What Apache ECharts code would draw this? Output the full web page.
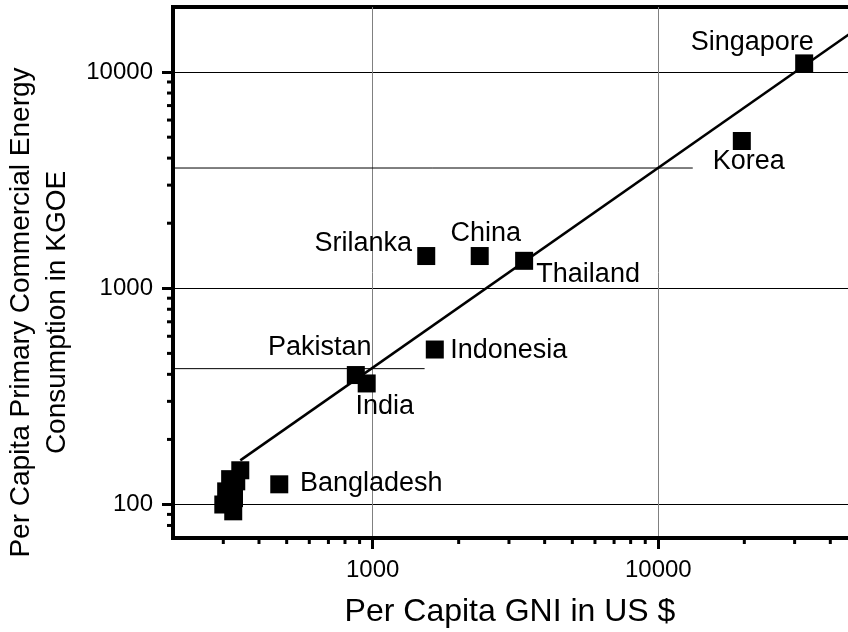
<!DOCTYPE html>
<html>
<head>
<meta charset="utf-8">
<script src="https://cdn.jsdelivr.net/npm/echarts@6/dist/echarts.min.js"></script>
<style>html,body{margin:0;padding:0;background:#fff}#chart{width:848px;height:632px}</style>
</head>
<body>
<div id="chart"></div>
<script>
// ---- data ----
const countries = ['Singapore', 'Korea', 'Srilanka', 'China', 'Thailand', 'Indonesia', 'Pakistan', 'India', 'Bangladesh'];
const gniLabeled = [32400, 19600, 1540, 2370, 3390, 1650, 873, 953, 471];
const energyLabeled = [10970, 4800, 1410, 1410, 1340, 521, 397, 363, 124];
// unlabeled cluster of low-income countries
const gniOther = [344, 333, 317, 307, 300, 327, 325];
const energyOther = [144, 128, 131, 115, 100, 107, 93];
// fitted trend line end points
const fitGni = [344, 50000];
const fitEnergy = [160, 16000];
// horizontal read-off lines
const refGniA = [200, 13200];
const refEnergyA = 3600;
const refGniB = [200, 1520];
const refEnergyB = 425;
// axis ranges and minor tick values
const X_MIN = 200, X_MAX = 50000;
const Y_MIN = 70, Y_MAX = 20000;
const xMinorTicks = [300, 400, 500, 600, 700, 800, 900, 2000, 3000, 4000, 5000, 6000, 7000, 8000, 9000, 20000, 30000, 40000];
const yMinorTicks = [80, 90, 200, 300, 400, 500, 600, 700, 800, 900, 2000, 3000, 4000, 5000, 6000, 7000, 8000, 9000];

// ---- label placement (styling, not data) ----
const labelOffsets = {
  Singapore: [-52, -21], Korea: [7, 21], Srilanka: [-63, -12], China: [6, -22],
  Thailand: [64, 14], Indonesia: [74, 1], Pakistan: [-36, -27], India: [18, 23], Bangladesh: [92, -1]
};

const FONT = 'Liberation Sans, Arial, sans-serif';
const chart = echarts.init(document.getElementById('chart'), null, {renderer: 'canvas'});

const labeledData = countries.map((c, i) => ({
  name: c,
  value: [gniLabeled[i], energyLabeled[i]]
}));
const otherData = gniOther.map((g, i) => [g, energyOther[i]]);

const tickRender = (dir) => function (params, api) {
  const p = api.coord([api.value(0), api.value(1)]);
  const shape = dir === 'x'
    ? {x1: p[0], y1: p[1], x2: p[0], y2: p[1] + 6}
    : {x1: p[0] - 6, y1: p[1], x2: p[0], y2: p[1]};
  return {type: 'line', shape: shape, style: {stroke: '#000', lineWidth: 3}};
};

chart.setOption({
  animation: false,
  backgroundColor: '#fff',
  grid: {
    left: 173, top: 7, width: 685, height: 531,
    show: true, borderColor: '#000', borderWidth: 4,
    outerBoundsMode: 'none', containLabel: false
  },
  xAxis: {
    type: 'log', logBase: 10, min: X_MIN, max: X_MAX,
    name: 'Per Capita GNI in US $',
    nameLocation: 'middle', nameGap: 58,
    nameTextStyle: {fontFamily: FONT, fontSize: 32, color: '#000', padding: [0, 11, 0, 0]},
    axisLine: {show: true, lineStyle: {color: '#000', width: 4}},
    axisTick: {show: true, inside: false, length: 11, lineStyle: {color: '#000', width: 3}},
    axisLabel: {
      fontFamily: FONT, fontSize: 24, color: '#000', margin: 20,
      showMinLabel: false, showMaxLabel: false,
      formatter: v => String(Math.round(v))
    },
    splitLine: {show: true, lineStyle: {color: '#808080', width: 1}},
    minorTick: {show: false}
  },
  yAxis: {
    type: 'log', logBase: 10, min: Y_MIN, max: Y_MAX,
    name: 'Per Capita Primary Commercial Energy\nConsumption in KGOE',
    nameLocation: 'middle', nameRotate: 90, nameGap: 88,
    nameTextStyle: {fontFamily: FONT, fontSize: 28, lineHeight: 36, color: '#000', padding: [0, 80, 0, 0]},
    axisLine: {show: true, lineStyle: {color: '#000', width: 4}},
    axisTick: {show: true, inside: false, length: 11, lineStyle: {color: '#000', width: 3}},
    axisLabel: {
      fontFamily: FONT, fontSize: 24, color: '#000', margin: 20,
      showMinLabel: false, showMaxLabel: false,
      formatter: v => String(Math.round(v))
    },
    splitLine: {show: true, lineStyle: {color: '#000', width: 1}}
  },
  series: [
    {
      type: 'line', name: 'refA', silent: true, symbol: 'none',
      data: refGniA.map(g => [g, refEnergyA]),
      lineStyle: {color: '#000', width: 1}, z: 1
    },
    {
      type: 'line', name: 'refB', silent: true, symbol: 'none',
      data: refGniB.map(g => [g, refEnergyB]),
      lineStyle: {color: '#000', width: 1}, z: 1
    },
    {
      type: 'line', name: 'fit', silent: true, symbol: 'none',
      data: fitGni.map((g, i) => [g, fitEnergy[i]]),
      lineStyle: {color: '#000', width: 2.5}, z: 2
    },
    {
      type: 'scatter', name: 'countries', symbol: 'rect', symbolSize: 18,
      itemStyle: {color: '#000', opacity: 1},
      label: {
        show: true, position: 'inside', formatter: p => p.name,
        fontFamily: FONT, fontSize: 27, color: '#000', opacity: 1
      },
      labelLayout: function (p) {
        const o = labelOffsets[countries[p.dataIndex]];
        return {dx: o[0], dy: o[1], hideOverlap: false};
      },
      emphasis: {disabled: true},
      data: labeledData, z: 3
    },
    {
      type: 'scatter', name: 'others', symbol: 'rect', symbolSize: 18,
      itemStyle: {color: '#000', opacity: 1},
      emphasis: {disabled: true},
      data: otherData, z: 3
    },
    {
      type: 'custom', name: 'xMinor', silent: true,
      renderItem: tickRender('x'),
      data: xMinorTicks.map(v => [v, Y_MIN]), z: 4
    },
    {
      type: 'custom', name: 'yMinor', silent: true,
      renderItem: tickRender('y'),
      data: yMinorTicks.map(v => [X_MIN, v]), z: 4
    }
  ]
});
</script>
</body>
</html>
